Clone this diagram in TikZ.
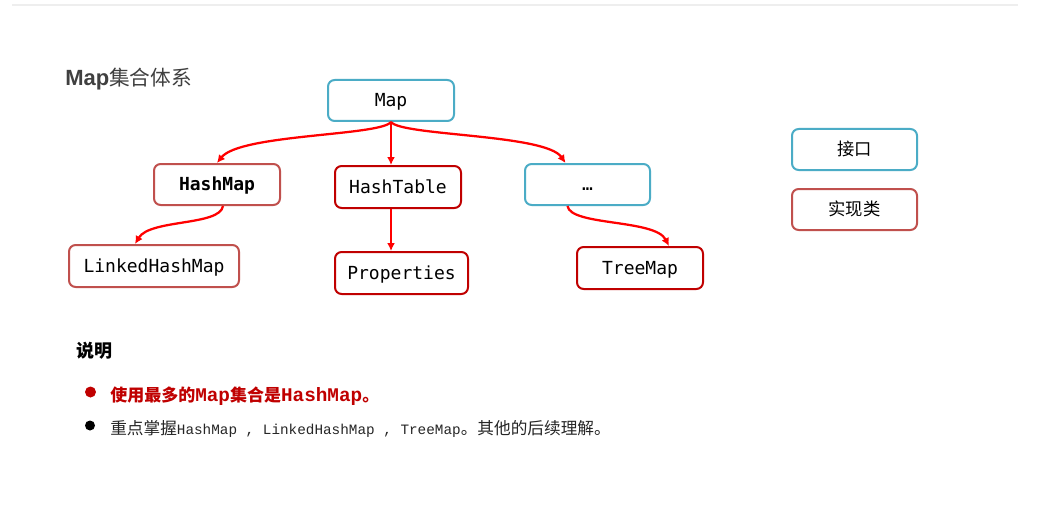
\documentclass[tikz,border=0pt]{standalone}
\usepackage{fontspec}
\usetikzlibrary{arrows.meta,calc}
\newfontfamily\cjk{Noto Sans CJK SC}
\newfontfamily\boxmono{DejaVu Sans Mono}
\newfontfamily\latmono{Liberation Mono}
\newfontfamily\titlesans{Liberation Sans}
\definecolor{ifblue}{HTML}{4BACC6}
\definecolor{implred}{HTML}{C0504D}
\definecolor{darkred}{HTML}{C00000}
\definecolor{arrred}{HTML}{FF0000}
\definecolor{titlegray}{HTML}{404040}
\definecolor{rulegray}{HTML}{EEEEEE}
\tikzset{
  basebox/.style={draw, line width=1.5pt, rounded corners=5pt, fill=white, text=black,
    inner sep=0pt, text height=10.5pt, text depth=1pt, font=\boxmono\fontsize{13.5}{16}\selectfont},
  ifbox/.style={basebox, draw=ifblue},
  implbox/.style={basebox, draw=implred},
  dredbox/.style={basebox, draw=darkred},
  conn/.style={draw=arrred, line width=1.7pt, -{Latex[length=6pt,width=6pt]}},
}
\begin{document}
\begin{tikzpicture}[x=0.75pt,y=-0.75pt]
\useasboundingbox (0,0) rectangle (1055,524);
\fill[white] (0,0) rectangle (1055,524);
\draw[rulegray, line width=1.2pt] (12,5) -- (1018,5);

% title
\node[anchor=base west, inner sep=0pt, text=titlegray] (title) at (65,86)
  {{\titlesans\bfseries\fontsize{16.5}{18}\selectfont Map}{\cjk\fontsize{15.5}{18}\selectfont 集合体系}};

% boxes
\node[ifbox, minimum width=94.5pt, minimum height=30.75pt] (map) at (391,100.5) {Map};
\node[implbox, minimum width=94.5pt, minimum height=30.75pt] (hm) at (217,184.5) {\bfseries HashMap};
\node[dredbox, minimum width=94.5pt, minimum height=31.5pt] (ht) at (398,187) {HashTable};
\node[ifbox, minimum width=93.75pt, minimum height=30.75pt] (dots) at (587.5,184.5) {…};
\node[implbox, minimum width=127.5pt, minimum height=31.5pt] (lhm) at (154,266) {LinkedHashMap};
\node[dredbox, minimum width=99.75pt, minimum height=31.5pt] (prop) at (401.5,273) {Properties};
\node[dredbox, minimum width=94.5pt, minimum height=31.5pt] (tm) at (640,268) {TreeMap};

% legend
\node[ifbox, minimum width=93.75pt, minimum height=30.75pt, font=\cjk\fontsize{13}{16}\selectfont] (lgif) at (854.5,149.5) {接口};
\node[implbox, minimum width=93.75pt, minimum height=30.75pt, font=\cjk\fontsize{13}{16}\selectfont] (lgimpl) at (854.5,209.5) {实现类};

% connectors
\draw[conn] (map.south) .. controls ($(map.south)+(-11,14)$) and ($(hm.north)+(23,-29)$) .. (hm.north);
\draw[conn] (map.south) -- (map.south |- ht.north);
\draw[conn] (map.south) .. controls ($(map.south)+(11,14)$) and ($(dots.north)+(-42,-29)$) .. ($(dots.north)+(-22,0)$);
\draw[conn] ($(hm.south)+(6,0)$) .. controls ($(hm.south)+(3,20)$) and ($(lhm.north)+(-4,-25)$) .. ($(lhm.north)+(-19,0)$);
\draw[conn] (map.south |- ht.south) -- (map.south |- prop.north);
\draw[conn] ($(dots.south)+(-20,0)$) .. controls ($(dots.south)+(-17,20)$) and ($(tm.north)+(15,-27)$) .. ($(tm.north)+(29,0)$);

% notes
\node[anchor=base west, inner sep=0pt] (note) at (76,357)
  {\cjk\bfseries\fontsize{13.5}{16}\selectfont 说明};
\fill[darkred] (90.5,392) circle (5.5);
\node[anchor=base west, inner sep=0pt, text=darkred] (l1) at (110,401)
  {{\cjk\bfseries\fontsize{12.75}{16}\selectfont 使用最多的}{\latmono\bfseries\fontsize{14.5}{16}\selectfont Map}{\cjk\bfseries\fontsize{12.75}{16}\selectfont 集合是}{\latmono\bfseries\fontsize{14.5}{16}\selectfont HashMap}{\cjk\bfseries\fontsize{12.75}{16}\selectfont 。}};
\fill[black] (90,425.5) circle (5);
\node[anchor=base west, inner sep=0pt, text=black!85] (l2) at (110,434)
  {{\cjk\fontsize{12.5}{16}\selectfont 重点掌握}{\latmono\fontsize{10.75}{16}\selectfont HashMap , LinkedHashMap , TreeMap}{\cjk\fontsize{12.5}{16}\selectfont 。其他的后续理解。}};
\end{tikzpicture}
\end{document}
